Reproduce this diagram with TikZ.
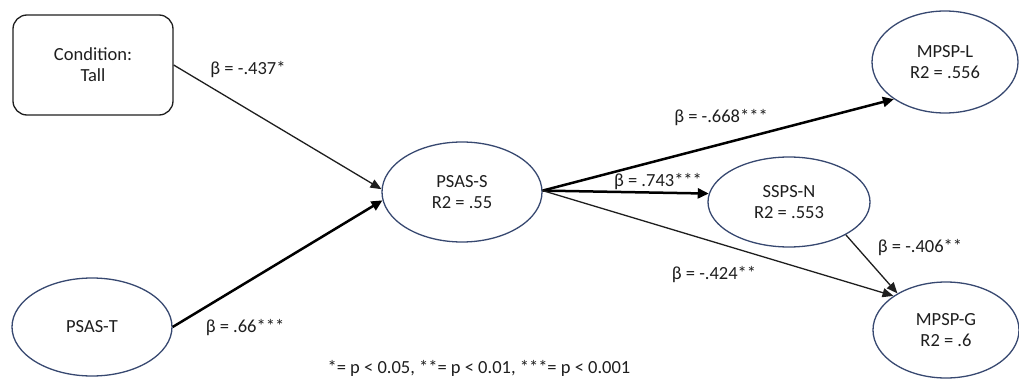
\documentclass[tikz,border=0pt]{standalone}
\usepackage{fontspec}
\setmainfont{Carlito}
\usetikzlibrary{shapes.geometric,arrows.meta}
\definecolor{ellline}{RGB}{55,72,112}
\definecolor{ink}{RGB}{30,30,30}
\begin{document}
\begin{tikzpicture}[x=1pt,y=1pt,
  every node/.style={font=\fontsize{18.5}{21}\selectfont, text=ink},
  latent/.style={ellipse, draw=ellline, line width=1.3pt, align=center, inner sep=0pt},
  condbox/.style={rectangle, rounded corners=14pt, draw=ink, line width=1.3pt, align=center,
    minimum width=160pt, minimum height=100pt, inner sep=0pt},
  thinpath/.style={draw=ink, line width=1.3pt, -{Triangle[length=11pt,width=9pt]}},
  thickpath/.style={draw=black, line width=2.5pt, -{Triangle[length=11pt,width=10pt]}},
  coef/.style={inner sep=0pt}]
\useasboundingbox (0,0) rectangle (1019,378);

% constructs
\node[condbox] (cond) at (93,313) {Condition:\\Tall};
\node[latent, minimum width=160pt, minimum height=98pt] (psat) at (92,51) {PSAS-T};
\node[latent, minimum width=160pt, minimum height=100pt] (psass) at (462,186) {PSAS-S\\R2 = .55};
\node[latent, minimum width=162pt, minimum height=90pt] (sspsn) at (789,176) {SSPS-N\\R2 = .553};
\node[latent, minimum width=146pt, minimum height=102pt] (mpspl) at (945,316) {MPSP-L\\R2 = .556};
\node[latent, minimum width=146pt, minimum height=96pt] (mpspg) at (946,48) {MPSP-G\\R2 = .6};

% paths
\draw[thinpath] (cond.east) -- (psass.178);
\draw[thickpath] (psat.east) -- (psass.186);
\draw[thickpath] (psass.1) -- (mpspl.216);
\draw[thickpath] (psass.1) -- (sspsn.174);
\draw[thinpath] (psass.1) -- (mpspg.147);
\draw[thinpath] (sspsn.330) -- (mpspg.143);

% path coefficients
\node[coef] (b1) at (248,308) {β = -.437*};
\node[coef] (b2) at (245,50) {β = .66***};
\node[coef] (b3) at (721,260) {β = -.668***};
\node[coef] (b4) at (658,196) {β = .743***};
\node[coef] (b5) at (714,103) {β = -.424**};
\node[coef] (b6) at (920,130) {β = -.406**};

% significance key
\node[coef] (key) at (479,10) {*= p < 0.05, **= p < 0.01, ***= p < 0.001};
\end{tikzpicture}
\end{document}
